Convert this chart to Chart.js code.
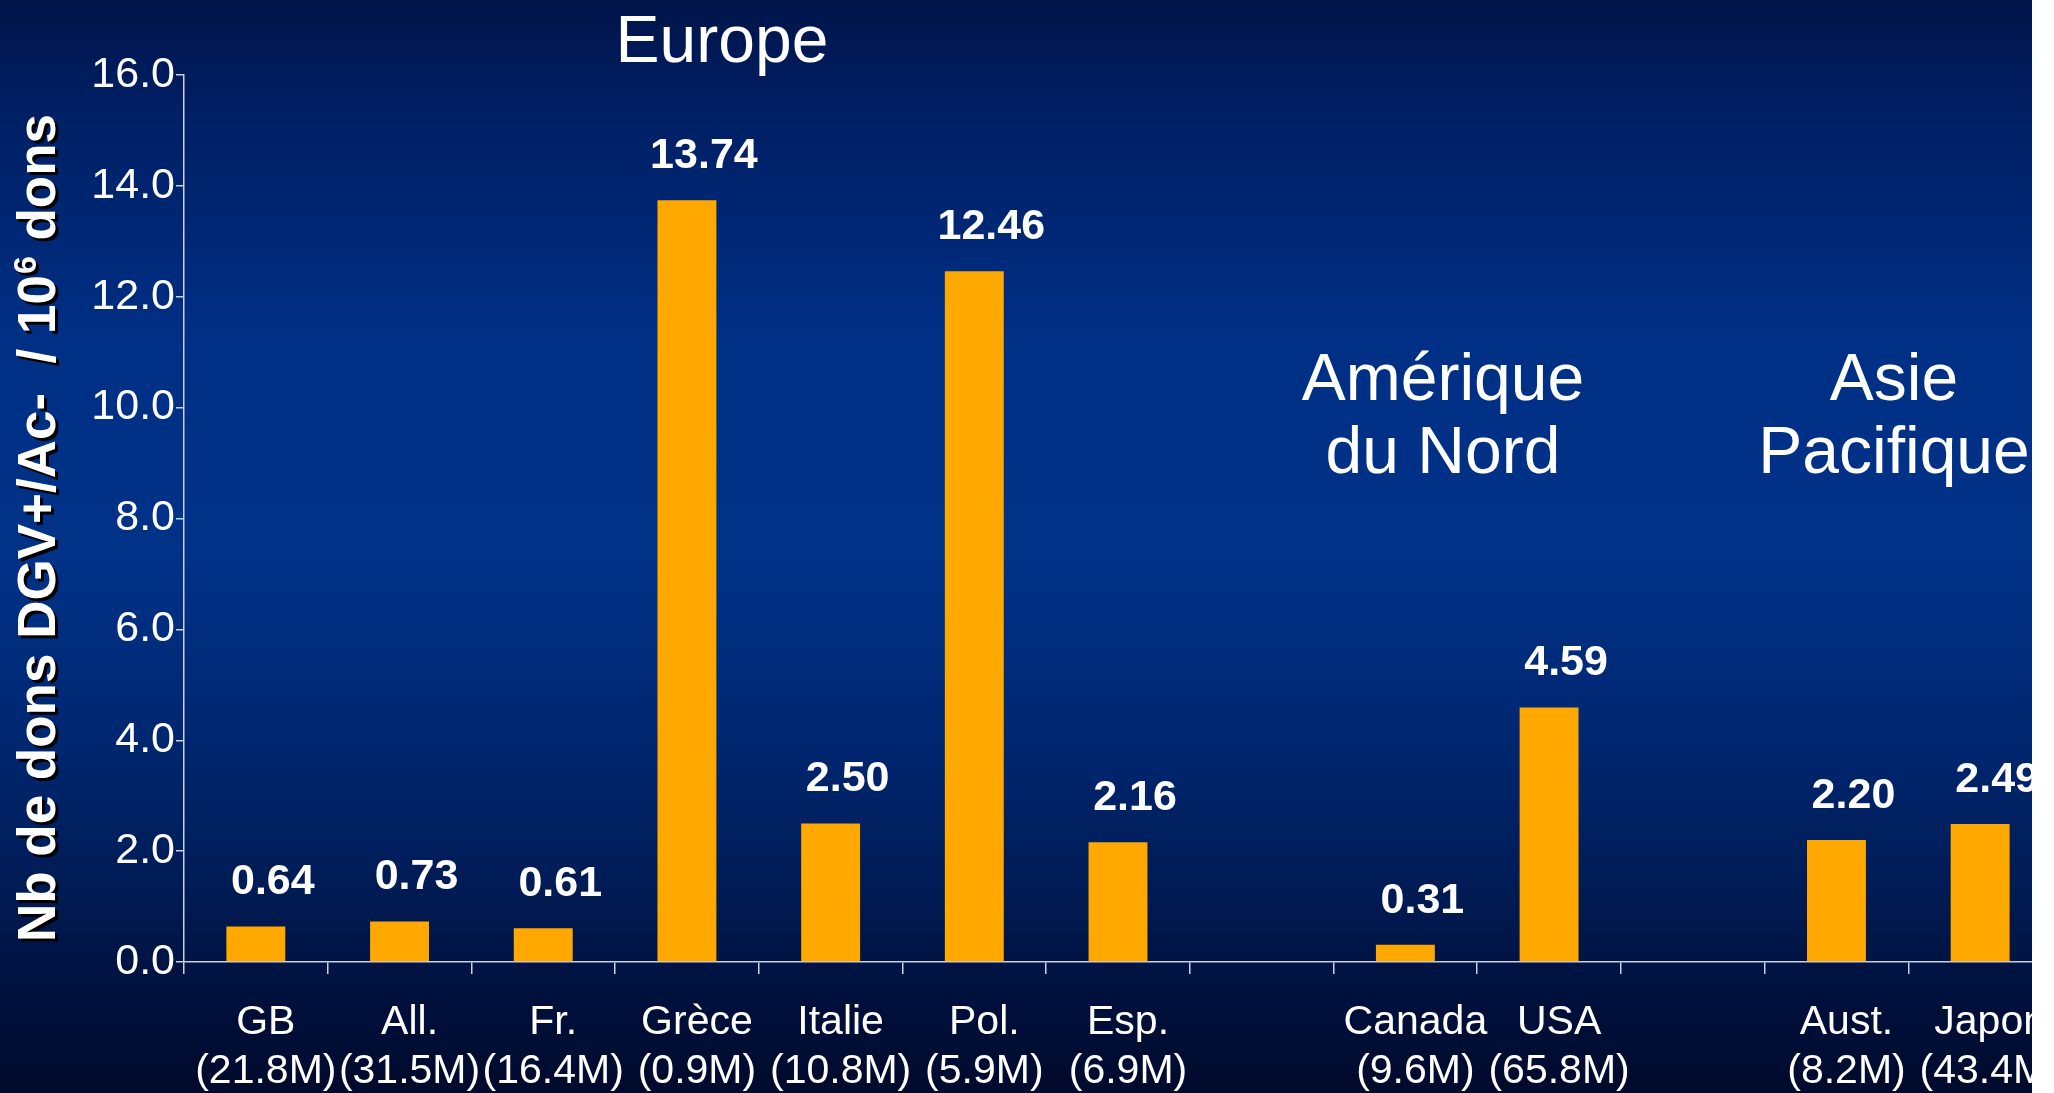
<!DOCTYPE html>
<html><head><meta charset="utf-8">
<script src="https://cdn.jsdelivr.net/npm/chart.js@4.4.0/dist/chart.umd.min.js"></script>
<style>html,body{margin:0;padding:0;background:#fff;overflow:hidden}</style>
</head><body>
<canvas id="c" width="2054" height="1093" style="width:2054px;height:1093px;display:block"></canvas>
<script>
// ---- data ----
const countries = ['GB','All.','Fr.','Grèce','Italie','Pol.','Esp.','','Canada','USA','','Aust.','Japon'];
const donorCounts = ['(21.8M)','(31.5M)','(16.4M)','(0.9M)','(10.8M)','(5.9M)','(6.9M)','','(9.6M)','(65.8M)','','(8.2M)','(43.4M)'];
const rates = [0.64,0.73,0.61,13.74,2.50,12.46,2.16,null,0.31,4.59,null,2.20,2.49];
const yMin = 0, yMax = 16, yStep = 2;
const regionNames = [['Europe'],['Amérique','du Nord'],['Asie','Pacifique']];
const yTitleMain = 'Nb de dons DGV+/Ac-  / 10';
const yTitleSup = '6';
const yTitleEnd = ' dons';

const FONT = "'Liberation Sans', Arial, Helvetica, sans-serif";
const labels = countries.map((c,i)=> c ? [c, donorCounts[i]] : '');

const bgPlugin = {
  id:'bg',
  beforeDraw(chart){
    const ctx = chart.ctx, H = chart.height;
    const g = ctx.createLinearGradient(0,0,0,H);
    const stops = [[0,'#001448'],[100,'#001e62'],[350,'#003086'],[550,'#003288'],[750,'#00266f'],[900,'#001a52'],[1000,'#00103c'],[1093,'#000a2c']];
    stops.forEach(s=>g.addColorStop(s[0]/H, s[1]));
    ctx.save();
    ctx.fillStyle='#ffffff'; ctx.fillRect(0,0,chart.width,H);
    ctx.fillStyle=g; ctx.fillRect(0,0,2032,H);
    ctx.restore();
  },
  afterDatasetsDraw(chart){
    const ctx = chart.ctx;
    const meta = chart.getDatasetMeta(0);
    ctx.save();
    ctx.fillStyle='#ffffff';
    ctx.font = 'bold 43px '+FONT;
    ctx.textAlign='center'; ctx.textBaseline='middle';
    meta.data.forEach((bar,i)=>{
      const v = rates[i];
      if (v===null || v===undefined) return;
      ctx.fillText(v.toFixed(2), bar.x+17, bar.y-44);
    });
    // region titles
    ctx.font = '66px '+FONT;
    ctx.textBaseline='alphabetic';
    const pos = [[722,[62]],[1443,[400,473]],[1894,[400,473]]];
    regionNames.forEach((lines,k)=>{
      lines.forEach((t,j)=>ctx.fillText(t,pos[k][0],pos[k][1][j]));
    });
    // y title rotated
    ctx.translate(55,529);
    ctx.rotate(-Math.PI/2);
    ctx.shadowColor='#000000'; ctx.shadowOffsetX=3; ctx.shadowOffsetY=3; ctx.shadowBlur=0;
    const fMain='bold 53px '+FONT, fSup='bold 32px '+FONT;
    ctx.font=fMain; const w1=ctx.measureText(yTitleMain).width, w3=ctx.measureText(yTitleEnd).width;
    ctx.font=fSup; const w2=ctx.measureText(yTitleSup).width;
    let x = -(w1+w2+w3)/2;
    ctx.textAlign='left';
    ctx.font=fMain; ctx.fillText(yTitleMain,x,0); x+=w1;
    ctx.font=fSup; ctx.fillText(yTitleSup,x+1,-19); x+=w2+2;
    ctx.font=fMain; ctx.fillText(yTitleEnd,x,0);
    ctx.restore();
  },
  afterDraw(chart){
    const ctx=chart.ctx;
    ctx.save(); ctx.fillStyle='#ffffff'; ctx.fillRect(2032,0,chart.width-2032,chart.height); ctx.restore();
  }
};

new Chart(document.getElementById('c'),{
  type:'bar',
  data:{labels, datasets:[{data:rates, backgroundColor:'#FFA800', borderWidth:0, barPercentage:0.41, categoryPercentage:1}]},
  options:{
    responsive:false, animation:false, devicePixelRatio:1,
    layout:{padding:{top:75,right:2,bottom:0,left:0}},
    plugins:{legend:{display:false}, tooltip:{enabled:false}, title:{display:false}},
    scales:{
      x:{
        offset:true,
        grid:{offset:true, drawOnChartArea:false, drawTicks:true, tickLength:12, color:'#c8cfe0', lineWidth:1.5},
        border:{display:true, color:'#c8cfe0', width:1.5},
        ticks:{color:'#ffffff', font:{family:FONT, size:41, lineHeight:1.2}, padding:24, labelOffset:10, maxRotation:0, minRotation:0, autoSkip:false},
        afterFit(s){ s.height = 131; s.paddingLeft = 0; s.paddingRight = 0; }
      },
      y:{
        min:yMin, max:yMax,
        grid:{drawOnChartArea:false, drawTicks:true, tickLength:8, color:'#c8cfe0', lineWidth:1.5},
        border:{display:true, color:'#c8cfe0', width:1.5},
        ticks:{stepSize:yStep, color:'#ffffff', font:{family:FONT, size:43}, padding:1, callback:v=>Number(v).toFixed(1)},
        afterFit(s){ s.width = 184; }
      }
    }
  },
  plugins:[bgPlugin]
});
</script>
</body></html>
